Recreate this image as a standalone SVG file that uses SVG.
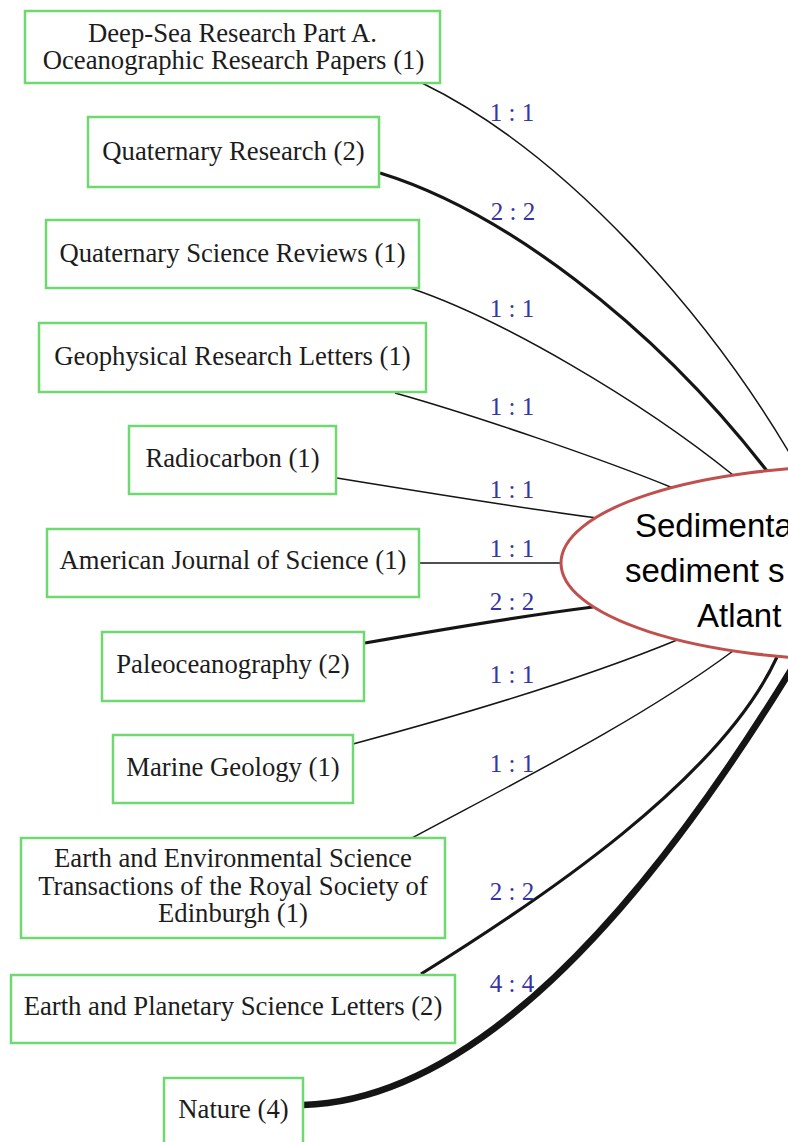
<svg xmlns="http://www.w3.org/2000/svg" width="788" height="1142" viewBox="0 0 788 1142">
<style>
.box{fill:#ffffff;stroke:#70d870;stroke-width:2.5}
.nt{font-family:"Liberation Serif","Times New Roman",serif;font-size:26.7px;fill:#1c1c1c;text-anchor:middle}
.e{fill:none;stroke:#151515;stroke-linecap:butt}
.w1{stroke-width:1.5}
.w2{stroke-width:3.2}
.w4{stroke-width:6.5}
.lb{font-family:"Liberation Serif","Times New Roman",serif;font-size:25px;fill:#3434a4;text-anchor:middle}
.ct{font-family:"Liberation Sans",Arial,sans-serif;font-size:33px;fill:#000000}
</style>
<rect width="788" height="1142" fill="#ffffff"/>
<g id="connectors">
<path class="e w1" d="M422,83 C560,150 710,310 805,480"/>
<path class="e w2" d="M380,173 C500,210 650,320 767,471"/>
<path class="e w1" d="M410,288 C500,318 640,400 733,475"/>
<path class="e w1" d="M395,393 C470,414 600,458 673,488"/>
<path class="e w1" d="M337,478 C430,493 520,508 597,518"/>
<path class="e w1" d="M419,563 L561,563"/>
<path class="e w2" d="M365,643 C450,628 530,615 593,607"/>
<path class="e w1" d="M353,744 C450,718 580,680 677,640"/>
<path class="e w1" d="M412,838 C520,780 640,720 733,651"/>
<path class="e w2" d="M421,974 C540,900 720,780 777,657"/>
<path class="e w4" d="M303,1105 C470,1100 640,920 800,655"/>
<text class="lb" x="512" y="121">1 : 1</text>
<text class="lb" x="513" y="220">2 : 2</text>
<text class="lb" x="512" y="317">1 : 1</text>
<text class="lb" x="512" y="415">1 : 1</text>
<text class="lb" x="512" y="498">1 : 1</text>
<text class="lb" x="512" y="557">1 : 1</text>
<text class="lb" x="512" y="610">2 : 2</text>
<text class="lb" x="512" y="683">1 : 1</text>
<text class="lb" x="512" y="772">1 : 1</text>
<text class="lb" x="512" y="900">2 : 2</text>
<text class="lb" x="512" y="992">4 : 4</text>
</g>
<g id="center">
<ellipse cx="860" cy="563" rx="299" ry="97" fill="#ffffff" stroke="#c0504d" stroke-width="3"/>
<text class="ct" x="635" y="537">Sedimenta</text>
<text class="ct" x="625" y="582">sediment s</text>
<text class="ct" x="697" y="627">Atlant</text>
</g>
<g id="n1"><rect class="box" x="25" y="11" width="415" height="72"/><text class="nt" x="232.5" y="42">Deep-Sea Research Part A.</text><text class="nt" x="233.5" y="69">Oceanographic Research Papers (1)</text></g>
<g id="n2"><rect class="box" x="88" y="117" width="291" height="70"/><text class="nt" x="233.5" y="160">Quaternary Research (2)</text></g>
<g id="n3"><rect class="box" x="46" y="220" width="373" height="68"/><text class="nt" x="232.5" y="262">Quaternary Science Reviews (1)</text></g>
<g id="n4"><rect class="box" x="39" y="323" width="387" height="69"/><text class="nt" x="232.5" y="365">Geophysical Research Letters (1)</text></g>
<g id="n5"><rect class="box" x="129" y="426" width="207" height="68"/><text class="nt" x="232.5" y="467">Radiocarbon (1)</text></g>
<g id="n6"><rect class="box" x="47" y="529" width="372" height="68"/><text class="nt" x="233" y="569">American Journal of Science (1)</text></g>
<g id="n7"><rect class="box" x="102" y="632" width="262" height="69"/><text class="nt" x="233" y="673">Paleoceanography (2)</text></g>
<g id="n8"><rect class="box" x="113" y="735" width="240" height="68"/><text class="nt" x="233" y="776">Marine Geology (1)</text></g>
<g id="n9"><rect class="box" x="21" y="838" width="424" height="100"/><text class="nt" x="233" y="867">Earth and Environmental Science</text><text class="nt" x="233" y="895">Transactions of the Royal Society of</text><text class="nt" x="233" y="922">Edinburgh (1)</text></g>
<g id="n10"><rect class="box" x="11" y="975" width="444" height="68"/><text class="nt" x="233" y="1015">Earth and Planetary Science Letters (2)</text></g>
<g id="n11"><rect class="box" x="164" y="1078" width="139" height="66"/><text class="nt" x="233.5" y="1118">Nature (4)</text></g>
</svg>
